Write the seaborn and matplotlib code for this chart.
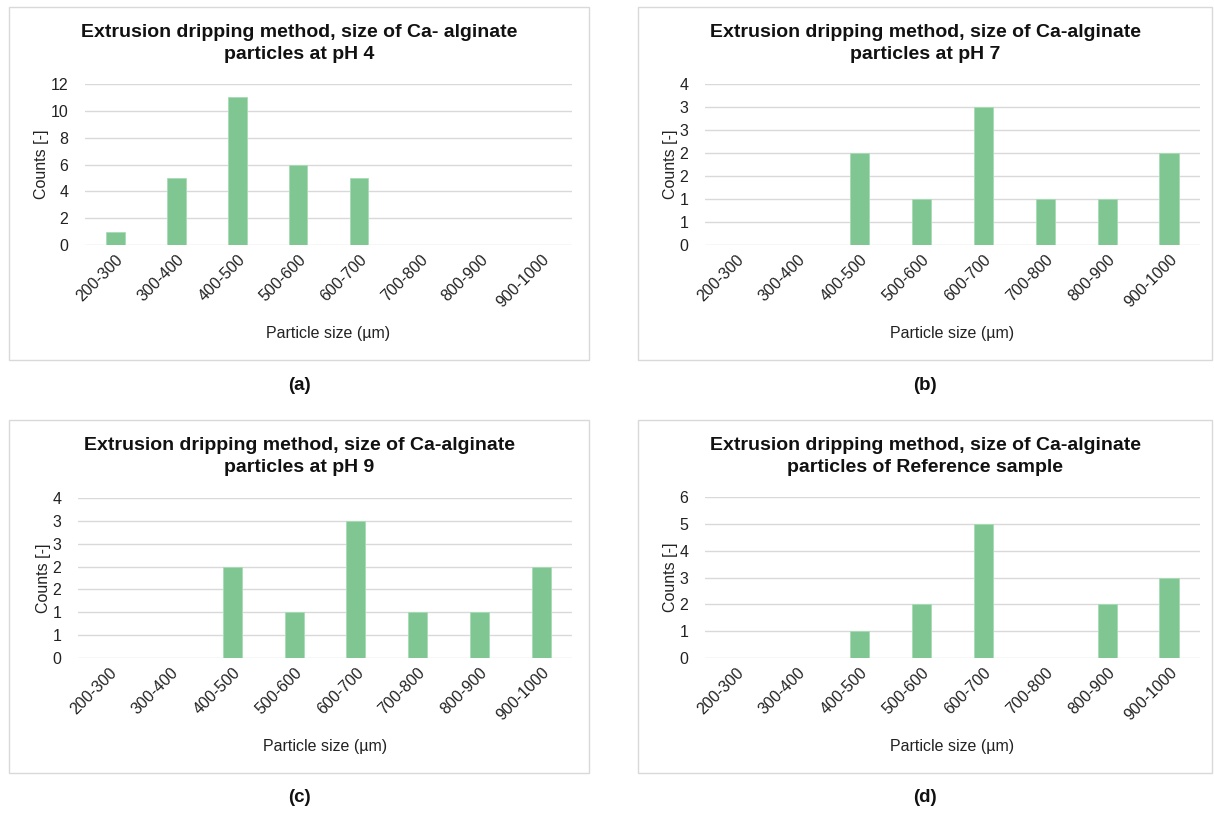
import numpy as np
import pandas as pd
import matplotlib
matplotlib.use("Agg")
import matplotlib.pyplot as plt
from matplotlib.patches import Rectangle
from matplotlib.ticker import MultipleLocator, FuncFormatter
import seaborn as sns

sns.set_theme(style="white")
plt.rcParams['font.family'] = ['Liberation Sans', 'DejaVu Sans']

# data
size_bins = ['200-300', '300-400', '400-500', '500-600',
             '600-700', '700-800', '800-900', '900-1000']
counts_ph4 = [1, 5, 11, 6, 5, 0, 0, 0]
counts_ph7 = [0, 0, 2, 1, 3, 1, 1, 2]
counts_ph9 = [0, 0, 2, 1, 3, 1, 1, 2]
counts_ref = [0, 0, 1, 2, 5, 0, 2, 3]

titles = [
    'Extrusion dripping method, size of Ca- alginate\nparticles at pH 4',
    'Extrusion dripping method, size of Ca-alginate\nparticles at pH 7',
    'Extrusion dripping method, size of Ca-alginate\nparticles at pH 9',
    'Extrusion dripping method, size of Ca-alginate\nparticles of Reference sample',
]
panel_labels = ['(a)', '(b)', '(c)', '(d)']

BAR_COLOR = '#80C693'
GRID_COLOR = '#D9D9D9'
W, H = 1214, 814

# (axes left, right, top, bottom) in pixels, box (left, right, top, bottom), y limits, y step
panels = [
    dict(counts=counts_ph4, ax=(85, 572, 84, 245), box=(9, 589, 7, 360), ymax=12, step=2),
    dict(counts=counts_ph7, ax=(705, 1200, 84, 245), box=(638, 1212, 7, 360), ymax=3.5, step=0.5),
    dict(counts=counts_ph9, ax=(78, 572, 498, 658), box=(9, 589, 420, 773), ymax=3.5, step=0.5),
    dict(counts=counts_ref, ax=(705, 1200, 497, 658), box=(638, 1212, 420, 773), ymax=6, step=1),
]

fig = plt.figure(figsize=(W / 100, H / 100), dpi=100)


def round_half_up(v, pos):
    return str(int(np.floor(v + 0.5)))


for i, p in enumerate(panels):
    bl, br, bt, bb = p['box']
    fig.patches.append(Rectangle((bl / W, 1 - bb / H), (br - bl) / W, (bb - bt) / H,
                                 transform=fig.transFigure, fill=False,
                                 edgecolor=GRID_COLOR, linewidth=1.0, zorder=0))
    l, r, t, b = p['ax']
    ax = fig.add_axes([l / W, 1 - b / H, (r - l) / W, (b - t) / H])
    df = pd.DataFrame({'bin': size_bins, 'count': p['counts']})
    sns.barplot(data=df, x='bin', y='count', color=BAR_COLOR, width=0.31,
                saturation=1, edgecolor='#A8DBB6', linewidth=0.6, ax=ax, zorder=3)
    ax.set_ylim(0, p['ymax'])
    ax.set_xlim(-0.5, len(size_bins) - 0.5)
    ax.yaxis.set_major_locator(MultipleLocator(p['step']))
    ax.yaxis.set_major_formatter(FuncFormatter(round_half_up))
    ax.grid(axis='y', color=GRID_COLOR, linewidth=1.0, zorder=0)
    ax.set_axisbelow(True)
    for s in ax.spines.values():
        s.set_visible(False)
    ax.tick_params(axis='x', length=0, labelsize=11.5, colors='#222222', pad=5)
    ax.tick_params(axis='y', length=0, labelsize=11.5, colors='#222222', pad=12)
    for lab in ax.get_xticklabels():
        lab.set_rotation(45)
        lab.set_ha('right')
        lab.set_rotation_mode('anchor')
    ax.set_xlabel('Particle size (µm)', fontsize=11.5, color='#222222', labelpad=11)
    ax.set_ylabel('Counts [-]', fontsize=11.5, color='#222222', labelpad=1)
    # chart title is centred on the chart box, not the plot area
    fig.text((bl + br) / 2 / W, 1 - (bt + 36.5) / H, titles[i], ha='center',
             va='center', fontsize=14, fontweight='bold', color='#111111',
             linespacing=1.38)
    fig.text((bl + br) / 2 / W, 1 - (bb + 25) / H, panel_labels[i], ha='center',
             va='center', fontsize=13.5, fontweight='bold', color='#111111')

fig.savefig('out.png', dpi=100, facecolor='white')
